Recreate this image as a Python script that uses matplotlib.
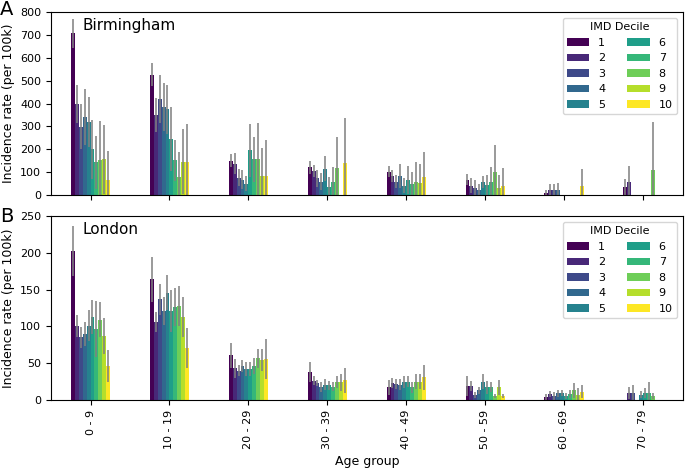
import numpy as np
import matplotlib
matplotlib.use('Agg')
import matplotlib.pyplot as plt

age_groups = ['0 - 9', '10 - 19', '20 - 29', '30 - 39', '40 - 49', '50 - 59', '60 - 69', '70 - 79']
deciles = ['1', '2', '3', '4', '5', '6', '7', '8', '9', '10']

# incidence per 100k, one row per age group, one column per IMD decile
bham_rate = [
    [707, 398, 299, 342, 320, 200, 143, 153, 156, 65],
    [527, 350, 422, 385, 375, 245, 153, 80, 146, 146],
    [150, 138, 76, 68, 50, 195, 156, 157, 85, 82],
    [122, 105, 73, 58, 116, 36, 57, 117, 0, 140],
    [102, 83, 58, 83, 40, 66, 47, 58, 54, 77],
    [66, 41, 32, 22, 57, 44, 57, 102, 31, 39],
    [10, 22, 20, 22, 0, 0, 0, 0, 0, 39],
    [34, 58, 0, 0, 0, 0, 0, 109, 0, 0],
]
# upper end of the confidence interval
bham_hi = [
    [770, 480, 398, 463, 428, 328, 260, 325, 307, 193],
    [578, 425, 527, 491, 481, 385, 243, 190, 289, 311],
    [178, 185, 114, 109, 84, 312, 255, 316, 204, 243],
    [150, 130, 110, 95, 172, 78, 121, 255, 0, 335],
    [127, 109, 87, 135, 73, 128, 102, 146, 138, 188],
    [90, 73, 68, 47, 83, 86, 121, 219, 87, 117],
    [22, 48, 48, 51, 0, 0, 0, 0, 0, 115],
    [70, 128, 0, 0, 0, 0, 0, 320, 0, 0],
]

lon_rate = [
    [203, 100, 85, 90, 101, 113, 96, 109, 87, 46],
    [164, 106, 137, 121, 146, 121, 126, 128, 113, 71],
    [61, 43, 40, 46, 42, 42, 46, 57, 54, 56],
    [38, 26, 23, 18, 21, 20, 18, 24, 24, 27],
    [17, 23, 22, 21, 24, 25, 17, 25, 25, 31],
    [19, 19, 7, 13, 25, 17, 18, 5, 17, 5],
    [4, 8, 5, 9, 10, 5, 8, 13, 7, 11],
    [0, 9, 10, 0, 7, 9, 10, 5, 0, 0],
]
lon_hi = [
    [237, 115, 99, 106, 122, 136, 134, 133, 111, 68],
    [195, 120, 158, 140, 170, 150, 152, 155, 140, 98],
    [78, 56, 48, 54, 51, 51, 57, 70, 69, 83],
    [51, 32, 27, 25, 28, 26, 24, 32, 36, 44],
    [27, 30, 29, 29, 32, 32, 25, 35, 35, 48],
    [32, 26, 11, 18, 35, 26, 25, 8, 27, 8],
    [8, 12, 11, 14, 14, 9, 14, 23, 16, 20],
    [0, 17, 20, 0, 12, 16, 24, 9, 0, 0],
]

colors = plt.cm.viridis(np.linspace(0, 1, 10))
BAR_W = 0.05


def draw_panel(ax, rate, hi, city, ymax, step):
    rate = np.array(rate, dtype=float)
    hi = np.array(hi, dtype=float)
    x = np.arange(len(age_groups))
    for j in range(len(deciles)):
        xs = x - 0.25 + (j + 0.5) * BAR_W
        ax.bar(xs, rate[:, j], BAR_W, color=colors[j], label=deciles[j])
        mask = rate[:, j] > 0
        err = hi[mask, j] - rate[mask, j]
        lo = np.clip(rate[mask, j] - err, 0, None)
        ax.vlines(xs[mask], lo, hi[mask, j], color='grey', alpha=0.8, lw=1.4)
    ax.set_xlim(-0.5, len(age_groups) - 0.5)
    ax.set_ylim(0, ymax)
    ax.set_yticks(np.arange(0, ymax + 1, step))
    ax.set_xticks(x)
    ax.set_ylabel('Incidence rate (per 100k)', fontsize=9)
    ax.tick_params(labelsize=8)
    ax.text(0.05, 0.97, city, transform=ax.transAxes, fontsize=11, va='top')
    ax.legend(title='IMD Decile', ncol=2, loc='upper right', fontsize=8,
              title_fontsize=8)


fig = plt.figure(figsize=(6.85, 4.7), dpi=100)
ax0 = fig.add_axes([0.0745, 0.585, 0.922, 0.389])
ax1 = fig.add_axes([0.0745, 0.149, 0.922, 0.391])

draw_panel(ax0, bham_rate, bham_hi, 'Birmingham', 800, 100)
draw_panel(ax1, lon_rate, lon_hi, 'London', 250, 50)

ax0.set_xticklabels([])
ax1.set_xticklabels(age_groups, rotation=90)
ax1.set_xlabel('Age group', fontsize=9)

fig.text(0.0, 1.0, 'A', fontsize=14, va='top')
fig.text(0.0, 0.56, 'B', fontsize=14, va='top')

fig.savefig('out.png', dpi=100)
